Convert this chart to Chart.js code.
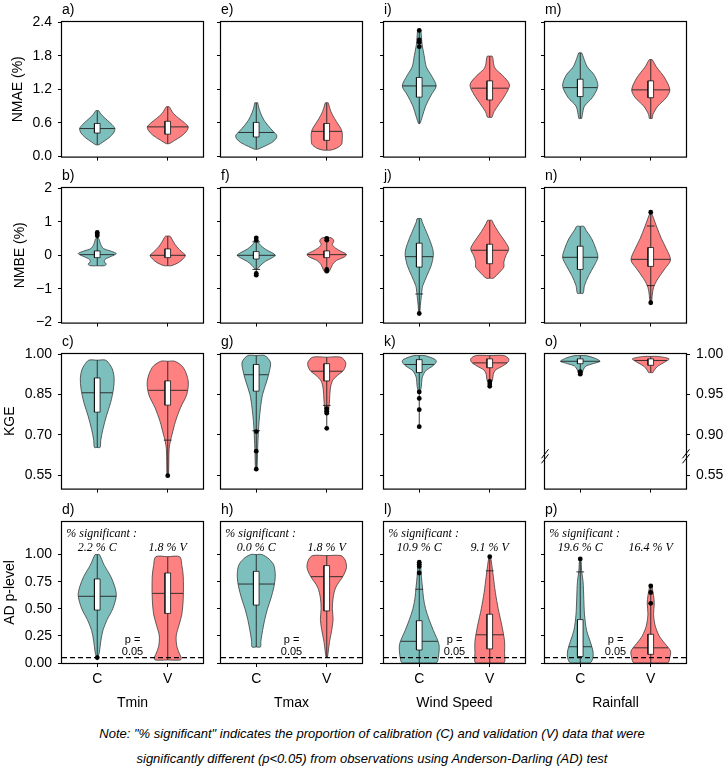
<!DOCTYPE html>
<html>
<head>
<meta charset="utf-8">
<script src="https://cdn.jsdelivr.net/npm/chart.js@4.4.0/dist/chart.umd.min.js"></script>
<style>
body{margin:0;background:#fff;overflow:hidden}
#fig{position:relative;width:727px;height:774px;background:#fff}
#fig canvas{position:absolute}
#note{position:absolute;left:0;width:744px;top:721px;text-align:center;font:italic 13px "Liberation Sans",Arial,sans-serif;line-height:25px;color:#000}
</style>
</head>
<body>
<div id="fig">
<div id="note">Note: "% significant" indicates the proportion of calibration (C) and validation (V) data that were<br>significantly different (p&lt;0.05) from observations using Anderson-Darling (AD) test</div>
</div>
<script>
var variables = ["Tmin", "Tmax", "Wind Speed", "Rainfall"];
var groups = ["C", "V"];
var metricTitles = ["NMAE (%)", "NMBE (%)", "KGE", "AD p-level"];
var panelLetters = [["a)","b)","c)","d)"],["e)","f)","g)","h)"],["i)","j)","k)","l)"],["m)","n)","o)","p)"]];
var sigC = ["2.2", "0.0", "10.9", "19.6"];
var sigV = ["1.8", "1.8", "9.1", "16.4"];
var pThreshold = 0.05;

var yMin = [0, -2, 0.5, 0];
var yMax = [2.4, 2, 1.0, 1.3];
var yTickValues = [[0,0.6,1.2,1.8,2.4],[-2,-1,0,1,2],[0.55,0.70,0.85,1.00],[0,0.25,0.5,0.75,1.0]];
var yTickLabels = [["0.0","0.6","1.2","1.8","2.4"],["\u22122","\u22121","0","1","2"],["0.55","0.70","0.85","1.00"],["0.00","0.25","0.50","0.75","1.00"]];
var kgeBrokenLabels = ["0.55","0.90","0.95","1.00"];
var kgeBrokenCols = [false, false, true, true];

// violin outlines: [value, half width] pairs, per variable, [C, V]
var nmaeShape = [
  [[[0.21,0.02],[0.26,0.08],[0.34,0.17],[0.42,0.23],[0.50,0.25],[0.57,0.21],[0.64,0.15],[0.72,0.08],[0.78,0.04],[0.82,0.02]],
   [[0.23,0.02],[0.29,0.10],[0.38,0.21],[0.46,0.27],[0.53,0.29],[0.60,0.24],[0.68,0.16],[0.77,0.08],[0.85,0.04],[0.89,0.02]]],
  [[[0.13,0.02],[0.18,0.11],[0.25,0.22],[0.32,0.28],[0.38,0.29],[0.45,0.24],[0.55,0.17],[0.65,0.11],[0.78,0.06],[0.90,0.03],[0.96,0.02]],
   [[0.115,0.05],[0.15,0.14],[0.22,0.21],[0.32,0.22],[0.42,0.22],[0.50,0.20],[0.58,0.16],[0.68,0.11],[0.80,0.06],[0.92,0.03],[0.96,0.02]]],
  [[[0.59,0.01],[0.70,0.04],[0.90,0.09],[1.10,0.17],[1.26,0.24],[1.45,0.17],[1.60,0.10],[1.80,0.07],[2.00,0.04],[2.15,0.03],[2.26,0.02]],
   [[0.70,0.03],[0.80,0.06],[0.95,0.14],[1.10,0.22],[1.28,0.28],[1.45,0.18],[1.55,0.09],[1.62,0.06],[1.70,0.05],[1.79,0.035]]],
  [[[0.68,0.02],[0.75,0.03],[0.90,0.06],[1.05,0.17],[1.26,0.25],[1.45,0.20],[1.60,0.10],[1.75,0.05],[1.85,0.02]],
   [[0.68,0.02],[0.75,0.03],[0.90,0.10],[1.05,0.22],[1.19,0.27],[1.40,0.20],[1.60,0.08],[1.73,0.02]]]
];
var nmaeMedian = [[0.50,0.53],[0.43,0.45],[1.26,1.22],[1.23,1.19]];
var nmaeBox = [[[0.42,0.59],[0.40,0.63]],[[0.35,0.61],[0.29,0.59]],[[1.06,1.41],[1.01,1.35]],[[1.07,1.38],[1.05,1.35]]];
var nmaeCaps = [[[],[]],[[],[]],[[],[]],[[],[]]];
var nmaeOutliers = [[[],[]],[[],[]],[[1.96,2.04,2.08,2.25],[]],[[],[]]];

var nmbeShape = [
  [[[-0.31,0.10],[-0.26,0.13],[-0.20,0.10],[-0.12,0.11],[-0.03,0.20],[0.05,0.27],[0.12,0.20],[0.20,0.09],[0.32,0.05],[0.45,0.03],[0.50,0.02]],
   [[-0.31,0.05],[-0.22,0.15],[-0.10,0.22],[0.0,0.25],[0.10,0.20],[0.25,0.13],[0.40,0.08],[0.52,0.05],[0.57,0.03]]],
  [[[-0.40,0.02],[-0.30,0.06],[-0.18,0.13],[-0.08,0.22],[0.0,0.27],[0.08,0.22],[0.18,0.13],[0.30,0.06],[0.40,0.02]],
   [[-0.52,0.02],[-0.42,0.05],[-0.28,0.08],[-0.15,0.14],[-0.05,0.25],[0.03,0.28],[0.12,0.20],[0.22,0.12],[0.32,0.08],[0.42,0.10],[0.50,0.08],[0.53,0.04]]],
  [[[-1.65,0.01],[-1.5,0.015],[-1.2,0.03],[-1.0,0.04],[-0.9,0.05],[-0.6,0.11],[-0.3,0.17],[0.0,0.20],[0.2,0.19],[0.5,0.14],[0.8,0.08],[1.0,0.04],[1.09,0.03]],
   [[-0.68,0.05],[-0.5,0.14],[-0.35,0.20],[-0.2,0.20],[0.0,0.23],[0.19,0.27],[0.4,0.22],[0.7,0.12],[0.95,0.05],[1.04,0.03]]],
  [[[-1.13,0.04],[-0.9,0.06],[-0.6,0.12],[-0.3,0.20],[-0.06,0.25],[0.2,0.22],[0.5,0.16],[0.75,0.08],[0.86,0.05]],
   [[-1.41,0.01],[-1.2,0.02],[-0.95,0.04],[-0.7,0.10],[-0.4,0.20],[-0.14,0.28],[0.2,0.22],[0.5,0.15],[0.87,0.08],[1.1,0.04],[1.26,0.01]]]
];
var nmbeMedian = [[0.02,0.0],[0.0,0.02],[-0.04,0.15],[-0.06,-0.12]];
var nmbeBox = [[[-0.07,0.13],[-0.07,0.19]],[[-0.11,0.11],[-0.07,0.13]],[[-0.35,0.36],[-0.25,0.33]],[[-0.42,0.27],[-0.33,0.23]]];
var nmbeCaps = [[[],[]],[[-0.42,0.40],[]],[[-1.15],[]],[[],[-0.9,0.87]]];
var nmbeOutliers = [[[0.58,0.63,0.68],[]],[[-0.59,-0.54,0.45,0.52],[-0.47,-0.42,0.45,0.50]],[[-1.73],[]],[[],[-1.41,1.28]]];

var kgeShape = [
  [[[0.653,0.04],[0.68,0.05],[0.72,0.08],[0.77,0.13],[0.82,0.19],[0.87,0.23],[0.91,0.24],[0.94,0.22],[0.96,0.18],[0.977,0.12]],
   [[0.55,0.01],[0.60,0.015],[0.65,0.02],[0.68,0.04],[0.70,0.06],[0.75,0.11],[0.80,0.18],[0.85,0.27],[0.90,0.29],[0.95,0.22],[0.973,0.10]]],
  [[[0.57,0.01],[0.65,0.02],[0.71,0.03],[0.75,0.04],[0.80,0.06],[0.85,0.09],[0.90,0.15],[0.94,0.19],[0.97,0.20],[0.994,0.12]],
   [[0.78,0.02],[0.80,0.03],[0.83,0.04],[0.87,0.05],[0.90,0.08],[0.92,0.15],[0.94,0.24],[0.967,0.27],[0.988,0.20]]],
  [[[0.953,0.01],[0.96,0.03],[0.97,0.04],[0.975,0.06],[0.98,0.10],[0.985,0.19],[0.99,0.24],[0.993,0.23],[0.998,0.08]],
   [[0.965,0.02],[0.968,0.04],[0.975,0.05],[0.98,0.08],[0.985,0.18],[0.99,0.26],[0.994,0.27],[0.998,0.20]]],
  [[[0.977,0.03],[0.98,0.04],[0.985,0.08],[0.988,0.18],[0.991,0.28],[0.995,0.20],[0.998,0.08]],
   [[0.977,0.03],[0.98,0.05],[0.985,0.10],[0.99,0.20],[0.994,0.26],[0.997,0.10]]]
];
var kgeMedian = [[0.856,0.865],[0.923,0.936],[0.987,0.989],[0.991,0.992]];
var kgeBox = [[[0.784,0.911],[0.81,0.90]],[[0.862,0.961],[0.90,0.964]],[[0.977,0.993],[0.983,0.994]],[[0.988,0.994],[0.986,0.994]]];
var kgeCaps = [[[],[0.68]],[[0.715],[0.809]],[[],[]],[[],[]]];
var kgeOutliers = [[[],[0.548]],[[0.572,0.639,0.712],[0.724,0.78,0.787,0.797]],[[0.910,0.931,0.945,0.953],[0.960,0.963,0.966]],[[0.975,0.977,0.978],[]]];

var adShape = [
  [[[0.03,0.005],[0.05,0.01],[0.1,0.03],[0.2,0.05],[0.3,0.08],[0.4,0.14],[0.5,0.22],[0.62,0.27],[0.7,0.25],[0.8,0.19],[0.9,0.10],[1.0,0.03]],
   [[0.028,0.18],[0.05,0.19],[0.08,0.17],[0.15,0.13],[0.25,0.12],[0.35,0.16],[0.45,0.20],[0.6,0.22],[0.8,0.22],[0.9,0.20],[0.98,0.17]]],
  [[[0.148,0.06],[0.2,0.065],[0.3,0.09],[0.4,0.12],[0.5,0.16],[0.6,0.21],[0.7,0.25],[0.8,0.27],[0.9,0.25],[0.96,0.18],[1.0,0.08]],
   [[0.055,0.01],[0.1,0.02],[0.2,0.04],[0.3,0.07],[0.4,0.09],[0.5,0.08],[0.6,0.09],[0.7,0.13],[0.8,0.23],[0.88,0.28],[0.95,0.26],[0.99,0.20]]],
  [[[0.0,0.24],[0.05,0.27],[0.17,0.28],[0.3,0.20],[0.4,0.14],[0.5,0.09],[0.6,0.06],[0.7,0.045],[0.8,0.03],[0.9,0.02],[0.93,0.01]],
   [[0.0,0.20],[0.1,0.21],[0.2,0.21],[0.35,0.17],[0.5,0.12],[0.65,0.08],[0.8,0.05],[0.9,0.03],[0.98,0.01]]],
  [[[0.0,0.14],[0.05,0.18],[0.11,0.18],[0.2,0.14],[0.3,0.09],[0.45,0.06],[0.6,0.05],[0.75,0.04],[0.85,0.02],[0.96,0.01]],
   [[0.0,0.24],[0.05,0.27],[0.11,0.28],[0.18,0.20],[0.25,0.12],[0.35,0.06],[0.45,0.04],[0.55,0.05],[0.62,0.04],[0.72,0.01]]]
];
var adMedian = [[0.615,0.642],[0.728,0.796],[0.20,0.26],[0.15,0.14]];
var adBox = [[[0.488,0.775],[0.457,0.83]],[[0.534,0.845],[0.48,0.898]],[[0.12,0.39],[0.13,0.45]],[[0.06,0.40],[0.08,0.265]]];
var adCaps = [[[],[]],[[],[]],[[0.68],[0.85]],[[0.84],[]]];
var adOutliers = [[[0.05],[]],[[],[]],[[0.83,0.89,0.91,0.93],[0.98]],[[0.96],[0.55,0.65,0.71]]];

var groupFill = ["#7dbfbc", "#fe8080"];
var edgeColor = "#3c3c3c";

var metricData = [
  [nmaeShape, nmaeMedian, nmaeBox, nmaeCaps, nmaeOutliers],
  [nmbeShape, nmbeMedian, nmbeBox, nmbeCaps, nmbeOutliers],
  [kgeShape, kgeMedian, kgeBox, kgeCaps, kgeOutliers],
  [adShape, adMedian, adBox, adCaps, adOutliers]
];

var colLeft = [62, 221, 384, 545];
var rowTop = [22, 188, 354, 522];
var plotW = 141, plotH = 141, leftSpace = 62, rightSpace = 42, topSpace = 22;

Chart.defaults.font.family = '"Liberation Sans", Arial, sans-serif';
Chart.defaults.font.size = 14;
Chart.defaults.color = "#000";

// width of the violin at a value, from its outline
function widthAt(shape, v) {
  for (var i = 1; i < shape.length; i++) {
    if (v <= shape[i][0]) {
      var a = shape[i - 1], b = shape[i];
      return a[1] + (v - a[0]) / (b[0] - a[0]) * (b[1] - a[1]);
    }
  }
  return shape[shape.length - 1][1];
}

function violinDatasets(shape, med, box, caps, outl, cx, color, tf) {
  var ds = [];
  var n = shape.length;
  var outline = [{x: cx, y: tf(shape[0][0])}];
  for (var i = 0; i < n; i++) outline.push({x: cx + shape[i][1], y: tf(shape[i][0])});
  outline.push({x: cx, y: tf(shape[n - 1][0])});
  for (var j = n - 1; j >= 0; j--) outline.push({x: cx - shape[j][1], y: tf(shape[j][0])});
  outline.push({x: cx, y: tf(shape[0][0])});
  ds.push({data: outline, showLine: true, fill: "shape", backgroundColor: color, borderColor: edgeColor,
    borderWidth: 0.8, pointRadius: 0, tension: 0.3, order: 6});

  var lo = Math.min.apply(null, [shape[0][0]].concat(outl));
  var hi = Math.max.apply(null, [shape[n - 1][0]].concat(outl));
  ds.push({data: [{x: cx, y: tf(lo)}, {x: cx, y: tf(hi)}], showLine: true, borderColor: "#222",
    borderWidth: 0.9, pointRadius: 0, order: 5});

  var wm = widthAt(shape, med);
  ds.push({data: [{x: cx - wm, y: tf(med)}, {x: cx + wm, y: tf(med)}], showLine: true, borderColor: "#222",
    borderWidth: 0.9, pointRadius: 0, order: 4});

  caps.forEach(function (c) {
    ds.push({data: [{x: cx - 0.055, y: tf(c)}, {x: cx + 0.055, y: tf(c)}], showLine: true, borderColor: "#222",
      borderWidth: 0.9, pointRadius: 0, order: 4});
  });

  var bw = 0.04;
  ds.push({data: [{x: cx - bw, y: tf(box[0])}, {x: cx + bw, y: tf(box[0])}, {x: cx + bw, y: tf(box[1])},
      {x: cx - bw, y: tf(box[1])}, {x: cx - bw, y: tf(box[0])}],
    showLine: true, fill: "shape", backgroundColor: "#fff", borderColor: "#111", borderWidth: 0.8,
    pointRadius: 0, tension: 0, order: 3});

  if (outl.length) {
    ds.push({data: outl.map(function (v) { return {x: cx, y: tf(v)}; }), showLine: false,
      pointRadius: 2.4, pointBackgroundColor: "#000", pointBorderWidth: 0, order: 2});
  }
  return ds;
}

var decorPlugin = {
  id: "decor",
  afterDatasetsDraw: function (chart, args, opts) {
    var ctx = chart.ctx, a = chart.chartArea, sx = chart.scales.x, sy = chart.scales.y;
    ctx.save();
    ctx.strokeStyle = "#000";
    ctx.lineWidth = 1.2;
    ctx.strokeRect(a.left - 0.5, a.top - 0.5, a.right - a.left + 1, a.bottom - a.top + 1);
    ctx.fillStyle = "#000";
    ctx.textBaseline = "middle";
    ctx.textAlign = "left";
    ctx.font = '14px "Liberation Sans", Arial, sans-serif';
    ctx.fillText(opts.letter, a.left, a.top - 12);
    (opts.texts || []).forEach(function (t) {
      ctx.font = t.font;
      ctx.textAlign = t.align;
      ctx.fillText(t.text, sx.getPixelForValue(t.x), sy.getPixelForValue(t.y));
    });
    if (opts.breakAt != null) {
      var yb = sy.getPixelForValue(opts.breakAt);
      ctx.lineWidth = 1;
      [a.left, a.right].forEach(function (xb) {
        [-2.5, 2.5].forEach(function (d) {
          ctx.beginPath();
          ctx.moveTo(xb - 3.5, yb + d + 4.5);
          ctx.lineTo(xb + 3.5, yb + d - 4.5);
          ctx.stroke();
        });
      });
    }
    ctx.restore();
  }
};

var fig = document.getElementById("fig");

function buildPanel(row, col) {
  var bottomSpace = row === 3 ? 52 : 8;
  var w = leftSpace + plotW + rightSpace, h = topSpace + plotH + bottomSpace;
  var canvas = document.createElement("canvas");
  canvas.width = w;
  canvas.height = h;
  canvas.style.left = (colLeft[col] - leftSpace) + "px";
  canvas.style.top = (rowTop[row] - topSpace) + "px";
  fig.appendChild(canvas);

  var broken = row === 2 && kgeBrokenCols[col];
  var tf = broken ? function (v) { return 1 - 3 * (1 - v); } : function (v) { return v; };
  var md = metricData[row];
  var datasets = [];
  for (var g = 0; g < 2; g++) {
    datasets = datasets.concat(violinDatasets(md[0][col][g], md[1][col][g], md[2][col][g],
      md[3][col][g], md[4][col][g], g, groupFill[g], tf));
  }
  var texts = [];
  if (row === 3) {
    datasets.push({data: [{x: -0.5, y: pThreshold}, {x: 1.5, y: pThreshold}], showLine: true,
      borderColor: "#000", borderWidth: 1.2, borderDash: [5, 3], pointRadius: 0, order: 1});
    var serif = 'italic 12px "Liberation Serif", "DejaVu Serif", serif';
    texts.push({text: "% significant :", x: -0.44, y: 1.19, font: serif, align: "left"});
    texts.push({text: sigC[col] + " % C", x: 0, y: 1.065, font: serif, align: "center"});
    texts.push({text: sigV[col] + " % V", x: 1, y: 1.065, font: serif, align: "center"});
    texts.push({text: "p =", x: 0.5, y: 0.21, font: '11px "Liberation Sans", Arial, sans-serif', align: "center"});
    texts.push({text: "0.05", x: 0.5, y: 0.10, font: '11px "Liberation Sans", Arial, sans-serif', align: "center"});
  }

  var rightAxis = row === 2 && col === 3;
  var scales = {
    x: {
      type: "linear", min: -0.5, max: 1.5,
      afterBuildTicks: function (s) { s.ticks = [{value: 0}, {value: 1}]; },
      afterFit: function (s) { s.height = bottomSpace; },
      ticks: {
        callback: function (v, i) { return row === 3 ? groups[i] : ""; },
        padding: 4, maxRotation: 0, autoSkip: false
      },
      grid: {display: true, drawOnChartArea: false, tickLength: 4, tickColor: "#000", tickWidth: 1},
      border: {display: false},
      title: {display: row === 3, text: variables[col], padding: {top: 0, bottom: 3}}
    },
    y: {
      type: "linear", position: "left", min: yMin[row], max: yMax[row],
      afterBuildTicks: function (s) { s.ticks = yTickValues[row].map(function (v) { return {value: v}; }); },
      afterFit: function (s) { s.width = leftSpace; },
      ticks: {
        callback: function (v, i) { return col === 0 ? yTickLabels[row][i] : ""; },
        padding: 6, autoSkip: false
      },
      grid: {display: !rightAxis, drawOnChartArea: false, tickLength: 4, tickColor: "#000", tickWidth: 1},
      border: {display: false},
      title: {display: col === 0, text: metricTitles[row], padding: {top: row === 0 ? 10 : (row === 1 ? 12 : 2), bottom: 0}}
    }
  };
  if (rightAxis) {
    scales.y2 = {
      type: "linear", position: "right", min: yMin[row], max: yMax[row],
      afterBuildTicks: function (s) { s.ticks = yTickValues[row].map(function (v) { return {value: v}; }); },
      afterFit: function (s) { s.width = rightSpace; },
      ticks: { callback: function (v, i) { return kgeBrokenLabels[i]; }, padding: 6, autoSkip: false },
      grid: {display: true, drawOnChartArea: false, tickLength: 4, tickColor: "#000", tickWidth: 1},
      border: {display: false}
    };
  }

  new Chart(canvas.getContext("2d"), {
    type: "scatter",
    data: {datasets: datasets},
    options: {
      responsive: false,
      animation: false,
      events: [],
      devicePixelRatio: 1,
      layout: {padding: {top: topSpace, right: rightAxis ? 0 : rightSpace, left: 0, bottom: 0}},
      scales: scales,
      plugins: {
        legend: {display: false},
        tooltip: {enabled: false},
        decor: {letter: panelLetters[col][row], texts: texts, breakAt: rightAxis ? 0.62 : null}
      }
    },
    plugins: [decorPlugin]
  });
}

for (var r = 0; r < 4; r++) {
  for (var c = 0; c < 4; c++) buildPanel(r, c);
}
</script>
</body>
</html>
